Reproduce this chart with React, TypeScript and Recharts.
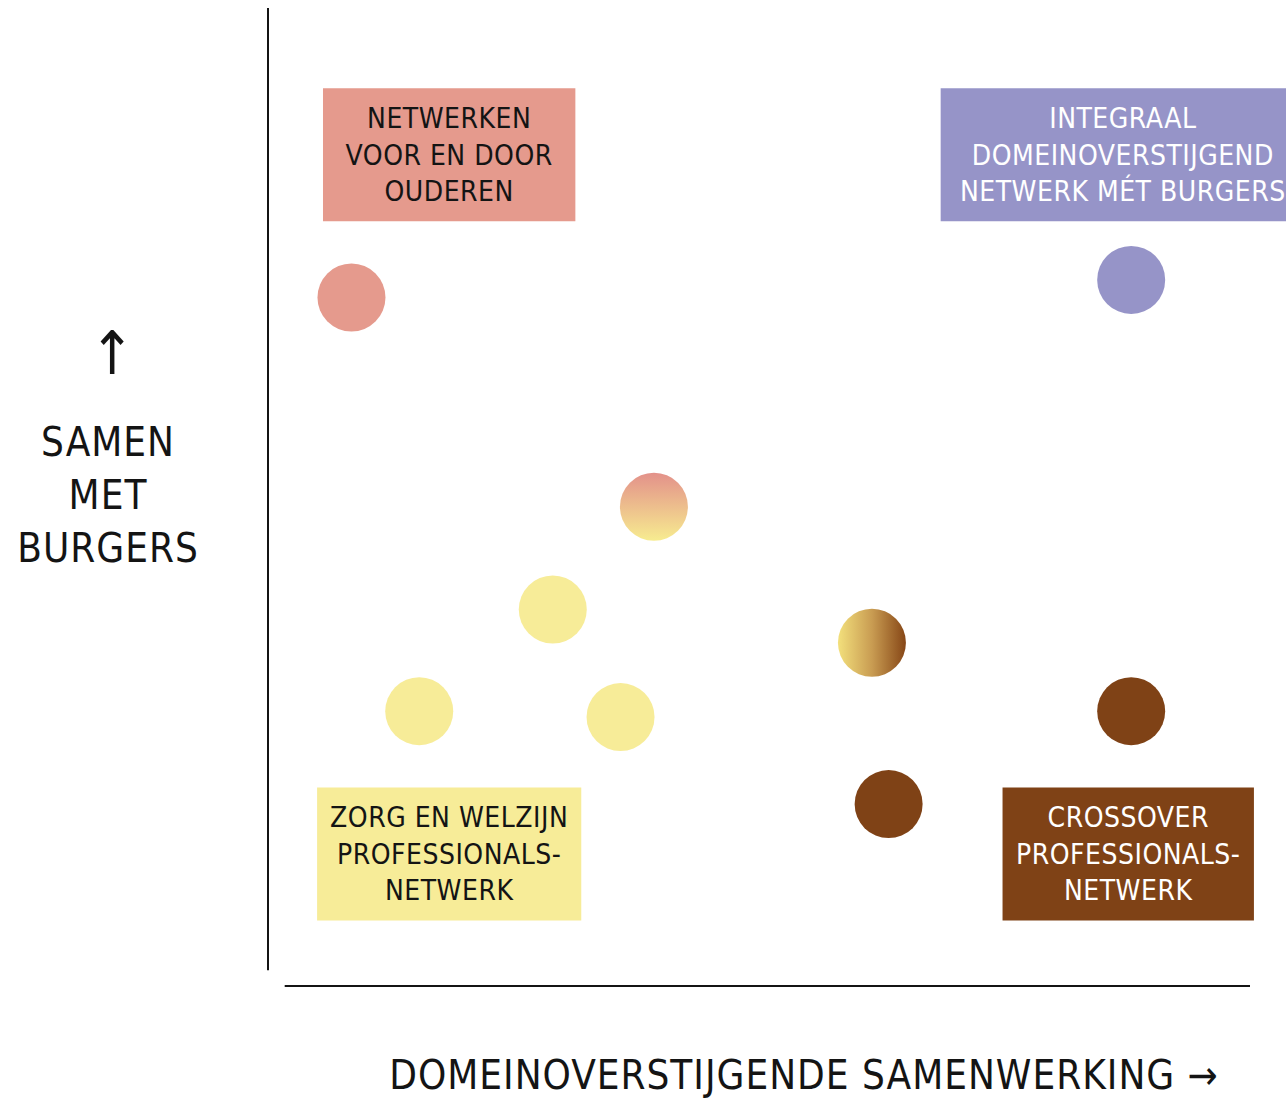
import React from "react";
import { ScatterChart, Scatter, XAxis, YAxis, ReferenceArea, ReferenceLine } from "recharts";

// circle positions per group (0-100 on both axes)
const pinkPoints = [{ x: 8.5, y: 70.4 }];
const purplePoints = [{ x: 87.9, y: 72.2 }];
const yellowPoints = [
  { x: 29.0, y: 38.5 },
  { x: 15.4, y: 28.1 },
  { x: 35.9, y: 27.5 },
];
const brownPoints = [
  { x: 87.9, y: 28.1 },
  { x: 63.2, y: 18.6 },
];
const pinkYellowPoints = [{ x: 39.3, y: 49.0 }];
const goldBrownPoints = [{ x: 61.5, y: 35.1 }];

const pinkLabel = ["NETWERKEN", "VOOR EN DOOR", "OUDEREN"];
const purpleLabel = ["INTEGRAAL", "DOMEINOVERSTIJGEND", "NETWERK MÉT BURGERS"];
const yellowLabel = ["ZORG EN WELZIJN", "PROFESSIONALS-", "NETWERK"];
const brownLabel = ["CROSSOVER", "PROFESSIONALS-", "NETWERK"];

const yTitle = ["SAMEN", "MET", "BURGERS"];
const xTitle = "DOMEINOVERSTIJGENDE SAMENWERKING \u2192";

const FONT = '"DejaVu Sans Condensed", "DejaVu Sans", sans-serif';
const PINK = "#e59a8d";
const PURPLE = "#9694c8";
const YELLOW = "#f7ec98";
const BROWN = "#7f4216";
const INK = "#141414";

const dot = (fill: string) => (props: any) =>
  <circle cx={props.cx} cy={props.cy} r={34} fill={fill} />;

function BoxLabel(props: any) {
  const { viewBox, lines, color } = props;
  if (!viewBox) return null;
  const cx = viewBox.x + viewBox.width / 2;
  const cy = viewBox.y + viewBox.height / 2;
  const gap = 36.5;
  const start = cy - gap * (lines.length - 1) / 2;
  return (
    <text
      textAnchor="middle"
      dominantBaseline="central"
      fontFamily={FONT}
      fontSize={28}
      letterSpacing={0.5}
      fill={color}
    >
      {lines.map((l: string, i: number) => (
        <tspan key={i} x={cx} y={start + i * gap}>
          {l}
        </tspan>
      ))}
    </text>
  );
}

export default function App() {
  return (
    <div style={{ position: "absolute", left: 0, top: 0, width: 1286, height: 1100, background: "#fff", fontFamily: FONT }}>
      <ScatterChart width={1286} height={1100} margin={{ top: 8, right: 36, bottom: 114, left: 268 }}>
        <defs>
          <linearGradient id="pinkYellow" x1="0" y1="0" x2="0" y2="1">
            <stop offset="0%" stopColor="#e3918a" />
            <stop offset="100%" stopColor="#f7ec90" />
          </linearGradient>
          <linearGradient id="goldBrown" x1="0" y1="0" x2="1" y2="0">
            <stop offset="0%" stopColor="#f3e07c" />
            <stop offset="50%" stopColor="#c99c52" />
            <stop offset="100%" stopColor="#864616" />
          </linearGradient>
        </defs>
        <XAxis type="number" dataKey="x" domain={[0, 100]} hide />
        <YAxis type="number" dataKey="y" domain={[0, 100]} hide width={0} />
        <ReferenceLine segment={[{ x: 0, y: 1.6 }, { x: 0, y: 100 }]} stroke={INK} strokeWidth={2} ifOverflow="visible" />
        <ReferenceLine segment={[{ x: 1.7, y: 0 }, { x: 100, y: 0 }]} stroke={INK} strokeWidth={2} ifOverflow="visible" />
        <ReferenceArea x1={5.6} x2={31.3} y1={78.2} y2={91.8} fill={PINK} fillOpacity={1} ifOverflow="visible"
          label={(p: any) => <BoxLabel {...p} lines={pinkLabel} color={INK} />} />
        <ReferenceArea x1={68.5} x2={105.6} y1={78.2} y2={91.8} fill={PURPLE} fillOpacity={1} ifOverflow="visible"
          label={(p: any) => <BoxLabel {...p} lines={purpleLabel} color="#ffffff" />} />
        <ReferenceArea x1={5.0} x2={31.9} y1={6.7} y2={20.3} fill={YELLOW} fillOpacity={1} ifOverflow="visible"
          label={(p: any) => <BoxLabel {...p} lines={yellowLabel} color={INK} />} />
        <ReferenceArea x1={74.8} x2={100.4} y1={6.7} y2={20.3} fill={BROWN} fillOpacity={1} ifOverflow="visible"
          label={(p: any) => <BoxLabel {...p} lines={brownLabel} color="#ffffff" />} />
        <Scatter data={pinkPoints} shape={dot(PINK)} isAnimationActive={false} />
        <Scatter data={purplePoints} shape={dot(PURPLE)} isAnimationActive={false} />
        <Scatter data={yellowPoints} shape={dot(YELLOW)} isAnimationActive={false} />
        <Scatter data={brownPoints} shape={dot(BROWN)} isAnimationActive={false} />
        <Scatter data={pinkYellowPoints} shape={dot("url(#pinkYellow)")} isAnimationActive={false} />
        <Scatter data={goldBrownPoints} shape={dot("url(#goldBrown)")} isAnimationActive={false} />
      </ScatterChart>

      <div style={{ position: "absolute", left: 12, width: 200, top: 318, textAlign: "center", fontSize: 60, lineHeight: "70px", color: INK }}>
        {"\u2191"}
      </div>
      <div style={{ position: "absolute", left: 8, width: 200, top: 416, textAlign: "center", fontSize: 40, lineHeight: "53px", letterSpacing: 1, color: INK }}>
        {yTitle.map((t) => (
          <div key={t}>{t}</div>
        ))}
      </div>
      <div style={{ position: "absolute", left: 304, width: 1000, top: 1052, height: 46, textAlign: "center", fontSize: 40, lineHeight: "46px", letterSpacing: 1, whiteSpace: "nowrap", color: INK }}>
        {xTitle}
      </div>
    </div>
  );
}
